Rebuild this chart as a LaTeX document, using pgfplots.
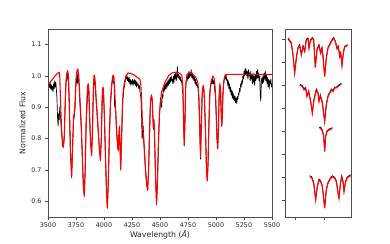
\documentclass[border=0pt]{standalone}
\usepackage{fontspec}
\setmainfont{DejaVu Sans}
\usepackage{pgfplots}
\pgfplotsset{compat=1.18}
\definecolor{spine}{gray}{0.3}
\begin{document}
\begin{tikzpicture}
\useasboundingbox (0,0) rectangle (390bp,244bp);
\pgfplotsset{
  every axis/.append style={
    scale only axis,
    axis line style={spine, line width=0.6bp},
    tick style={spine, line width=0.6bp},
    tick align=outside,
    major tick length=3bp,
    xtick pos=left, ytick pos=left,
    tick label style={font=\fontsize{6.4}{7}\selectfont, text=black!85},
    label style={font=\fontsize{7.8}{8.5}\selectfont, text=black!85},
    /pgf/number format/assume math mode=true,
  },
}
\begin{axis}[
  at={(48bp,27bp)}, anchor=south west,
  width=224bp, height=188bp,
  xmin=3500, xmax=5500, ymin=0.55, ymax=1.15,
  xtick={3500,3750,...,5500},
  ytick={0.6,0.7,...,1.1},
  yticklabel style={/pgf/number format/fixed, /pgf/number format/fixed zerofill, /pgf/number format/precision=1},
  xticklabel style={/pgf/number format/1000 sep={}, yshift=1bp},
  xlabel={Wavelength (\textit{Å})},
  ylabel={Normalized Flux},
  xlabel style={yshift=4bp},
  ylabel style={yshift=-1bp},
]
\addplot[black, line width=0.7bp, line join=round] coordinates {
(3510,0.975)(3515,0.962)(3520,0.978)(3525,0.958)(3530,0.972)(3535,0.955)(3540,0.968)(3545,0.95)(3550,0.975)(3555,0.96)(3560,0.985)(3565,0.965)(3570,0.98)(3575,0.955)(3580,0.93)(3585,0.87)(3590,0.84)(3595,0.88)(3600,0.86)(3605,0.9)(3612,0.87)(3620,0.82)(3630,0.79)(3637,0.775)(3645,0.81)(3652,0.89)(3660,0.97)(3665,0.995)(3670,0.985)(3676,1.005)(3683,0.99)(3690,0.90)(3700,0.77)(3711,0.68)(3720,0.78)(3728,0.86)(3735,0.87)(3742,0.90)(3748,0.96)(3753,0.99)(3758,1.0)(3762,0.975)(3767,1.01)(3772,0.985)(3778,0.97)(3785,0.91)(3795,0.85)(3805,0.76)(3815,0.66)(3824,0.62)(3832,0.70)(3838,0.80)(3843,0.86)(3848,0.90)(3853,0.94)(3858,0.96)(3862,0.955)(3866,0.93)(3872,0.86)(3880,0.79)(3889,0.75)(3897,0.82)(3903,0.92)(3908,0.975)(3912,0.99)(3916,0.985)(3922,0.96)(3930,0.92)(3945,0.84)(3958,0.77)(3968,0.735)(3976,0.80)(3983,0.91)(3990,0.955)(3995,0.95)(4003,0.87)(4012,0.76)(4022,0.64)(4030,0.58)(4038,0.66)(4047,0.79)(4058,0.91)(4064,0.94)(4070,0.97)(4075,0.985)(4080,0.995)(4085,0.98)(4090,0.975)(4095,0.90)(4100,0.905)(4106,0.88)(4112,0.82)(4120,0.78)(4127,0.76)(4133,0.80)(4138,0.80)(4143,0.77)(4149,0.71)(4156,0.78)(4163,0.87)(4168,0.93)(4172,0.935)(4178,0.96)(4185,0.97)(4190,0.985)(4195,1.0)(4200,0.99)(4205,1.003)(4210,0.985)(4215,0.995)(4220,0.98)(4225,0.995)(4230,0.975)(4235,0.99)(4240,0.97)(4245,0.985)(4250,0.975)(4255,0.99)(4260,0.97)(4265,0.985)(4270,0.975)(4275,0.99)(4280,0.97)(4285,0.985)(4290,0.965)(4295,0.98)(4300,0.97)(4305,0.975)(4310,0.96)(4315,0.97)(4320,0.955)(4325,0.94)(4330,0.93)(4335,0.88)(4340,0.80)(4345,0.81)(4350,0.84)(4360,0.77)(4372,0.70)(4382,0.655)(4390,0.64)(4398,0.70)(4406,0.80)(4412,0.88)(4417,0.93)(4423,0.925)(4430,0.92)(4436,0.87)(4441,0.83)(4447,0.85)(4452,0.80)(4460,0.68)(4469,0.595)(4477,0.66)(4486,0.78)(4495,0.87)(4500,0.90)(4505,0.93)(4510,0.905)(4515,0.90)(4520,0.94)(4525,0.93)(4530,0.96)(4535,0.95)(4540,0.97)(4545,0.955)(4550,0.975)(4555,0.96)(4560,0.98)(4565,0.965)(4570,0.985)(4575,0.97)(4580,0.99)(4585,0.975)(4590,0.995)(4595,0.98)(4600,1.0)(4605,0.985)(4610,0.99)(4615,0.975)(4620,1.0)(4625,0.98)(4630,1.005)(4635,0.99)(4640,1.01)(4645,0.985)(4650,1.0)(4655,1.03)(4660,0.995)(4665,1.005)(4670,0.99)(4675,1.0)(4680,0.985)(4685,0.995)(4690,0.98)(4695,0.985)(4700,0.955)(4705,0.94)(4711,0.84)(4717,0.78)(4723,0.86)(4728,0.96)(4733,0.98)(4738,0.995)(4743,0.985)(4748,1.005)(4753,0.99)(4758,1.015)(4763,0.995)(4768,1.01)(4773,1.0)(4778,1.02)(4783,0.995)(4788,1.01)(4793,0.99)(4798,1.0)(4803,0.985)(4808,0.995)(4813,0.975)(4818,0.99)(4823,0.97)(4828,0.98)(4833,0.965)(4838,0.97)(4843,0.95)(4848,0.91)(4855,0.82)(4862,0.735)(4869,0.84)(4876,0.93)(4880,0.96)(4885,0.965)(4890,0.955)(4895,0.94)(4900,0.89)(4908,0.80)(4915,0.70)(4922,0.67)(4929,0.72)(4936,0.83)(4945,0.94)(4950,0.96)(4955,0.975)(4960,0.99)(4965,0.975)(4970,0.99)(4975,0.975)(4980,0.985)(4985,0.97)(4990,0.95)(4995,0.94)(5003,0.86)(5009,0.80)(5015,0.77)(5021,0.82)(5027,0.92)(5032,0.96)(5035,0.965)(5040,0.94)(5045,0.89)(5050,0.84)(5055,0.86)(5060,0.93)(5065,0.96)(5070,0.985)(5075,0.99)(5080,1.0)(5085,0.99)(5090,1.005)(5095,0.985)(5100,0.99)(5105,0.97)(5110,0.985)(5115,0.96)(5120,0.975)(5125,0.95)(5130,0.965)(5135,0.94)(5140,0.955)(5145,0.93)(5150,0.95)(5155,0.925)(5160,0.94)(5165,0.92)(5170,0.935)(5175,0.915)(5180,0.93)(5185,0.912)(5190,0.935)(5195,0.925)(5200,0.945)(5205,0.94)(5210,0.96)(5215,0.95)(5220,0.975)(5225,0.965)(5230,0.985)(5235,0.975)(5240,1.0)(5245,0.99)(5250,1.015)(5255,1.0)(5260,1.025)(5265,1.005)(5270,1.02)(5275,1.0)(5280,1.015)(5285,0.99)(5290,1.02)(5295,1.0)(5300,1.01)(5305,0.985)(5310,1.015)(5315,0.99)(5320,1.005)(5325,0.975)(5330,1.01)(5335,0.98)(5340,1.0)(5345,0.97)(5350,1.005)(5355,0.985)(5360,1.015)(5365,0.99)(5370,1.02)(5375,0.995)(5380,1.01)(5385,0.985)(5390,1.0)(5395,0.94)(5400,0.92)(5405,0.985)(5410,0.995)(5415,0.975)(5420,1.0)(5425,0.98)(5430,1.01)(5435,0.99)(5440,1.015)(5445,0.985)(5450,1.005)(5455,0.975)(5460,0.995)(5465,0.965)(5470,0.99)(5475,0.96)(5480,0.985)(5485,0.975)(5490,0.99)(5495,0.965)(5500,0.975)
};
\addplot[red, line width=1.1bp, line join=round] coordinates {
(3510,0.975)(3530,0.985)(3550,0.995)(3570,1.003)(3590,1.01)(3600,1.012)(3605,1.0)(3612,0.92)(3620,0.84)(3630,0.78)(3637,0.772)(3645,0.80)(3652,0.90)(3660,0.98)(3668,1.01)(3676,1.017)(3683,1.0)(3690,0.92)(3700,0.76)(3711,0.675)(3720,0.77)(3728,0.87)(3735,0.88)(3742,0.92)(3750,0.99)(3760,1.02)(3767,1.022)(3775,1.0)(3785,0.93)(3795,0.86)(3805,0.76)(3815,0.65)(3824,0.616)(3832,0.70)(3840,0.85)(3848,0.93)(3855,0.97)(3860,0.975)(3866,0.95)(3872,0.87)(3880,0.79)(3889,0.745)(3897,0.82)(3903,0.93)(3910,1.0)(3915,1.003)(3922,0.98)(3930,0.93)(3945,0.85)(3958,0.77)(3968,0.73)(3976,0.80)(3983,0.93)(3990,0.965)(3995,0.96)(4003,0.88)(4012,0.76)(4022,0.63)(4030,0.578)(4038,0.66)(4047,0.80)(4058,0.92)(4070,0.98)(4080,1.003)(4088,1.0)(4095,0.96)(4103,0.90)(4112,0.83)(4120,0.79)(4127,0.765)(4133,0.82)(4138,0.84)(4143,0.78)(4149,0.70)(4156,0.79)(4163,0.89)(4172,0.955)(4185,0.985)(4200,1.003)(4215,1.01)(4240,1.008)(4270,1.003)(4300,0.995)(4320,0.99)(4328,0.975)(4335,0.93)(4342,0.86)(4350,0.82)(4360,0.76)(4372,0.69)(4382,0.65)(4390,0.635)(4398,0.70)(4406,0.82)(4415,0.92)(4423,0.94)(4430,0.93)(4436,0.88)(4441,0.836)(4447,0.86)(4452,0.80)(4460,0.68)(4469,0.589)(4477,0.66)(4486,0.79)(4495,0.88)(4505,0.92)(4515,0.95)(4530,0.965)(4545,0.98)(4560,0.99)(4580,1.003)(4610,1.01)(4640,1.012)(4670,1.01)(4695,1.003)(4705,0.96)(4711,0.85)(4717,0.777)(4723,0.86)(4730,0.97)(4740,1.005)(4760,1.01)(4790,1.008)(4820,0.995)(4838,0.98)(4848,0.93)(4855,0.84)(4862,0.74)(4869,0.85)(4876,0.94)(4885,0.97)(4892,0.96)(4900,0.90)(4908,0.80)(4915,0.70)(4922,0.665)(4929,0.72)(4936,0.84)(4945,0.95)(4958,0.985)(4972,1.0)(4985,0.99)(4995,0.95)(5003,0.87)(5009,0.80)(5015,0.767)(5021,0.82)(5027,0.93)(5035,0.976)(5042,0.95)(5048,0.87)(5052,0.84)(5057,0.88)(5064,0.96)(5075,0.995)(5085,1.005)(5500,1.005)
};
\end{axis}
\begin{axis}[
  at={(285bp,27bp)}, anchor=south west,
  width=66bp, height=188bp,
  xmin=0, xmax=66, ymin=0, ymax=188,
  xtick={10,39}, ytick={17,40,63,86,109,132,155,178},
  xticklabels={}, yticklabels={},
]
% snippet 1
\addplot[black, line width=0.7bp] coordinates {(3,179)(6.33,174.5)(8,162.5)(9.67,144.5)(11.33,159.5)(13,169.5)(14.67,172.5)(16.33,163)(18,171.5)(19.67,166)(21.33,178)(23,179)(24,169.5)(25.33,177)(27.33,179.5)(28.67,177.5)(30.33,150)(32,168)(34,172.5)(35.67,164.5)(37,169.5)(38,161)(39.67,141)(41.33,159.5)(43,169.5)(44.67,173)(47.33,178)(48.67,179.5)(50.33,176)(52,169)(53.33,171)(54.67,161)(55.67,164.5)(57,152)(58.33,164.5)(59.67,171)(61.33,171)(62.33,172.5)};
\addplot[red, line width=1.1bp] coordinates {(3,178)(6.33,173.7)(8,162)(9.67,143.7)(11.33,158.7)(13,168.7)(14.67,171.3)(16.33,162)(18,170.3)(19.67,165.3)(21.33,177)(23,178)(24,168.7)(25.33,176)(27.33,178.7)(28.67,177)(30.33,149.3)(32,167)(34,171.3)(35.67,163.7)(37,168.7)(38,160.3)(39.67,140.3)(41.33,158.7)(43,168.7)(44.67,172)(47.33,177)(48.67,178.7)(50.33,175.3)(52,168)(53.33,170.3)(54.67,160.3)(55.67,163.7)(57,151.3)(58.33,163.7)(59.67,170.3)(61.33,170.3)(62.33,172)};
% snippet 2
\addplot[black, line width=0.7bp] coordinates {(14.67,133)(17.33,131.3)(19,128)(20.67,129.7)(22,121.3)(23.67,126.3)(25.67,116.3)(27.33,104.5)(29,118)(31.33,128)(33,124.7)(34,116.3)(35.33,122.3)(37.33,114.7)(39.67,96)(41.33,113)(43,121.3)(44.67,124.7)(46.33,128)(48,126.3)(49.67,129.7)(52,130.3)(54,132.3)(56.33,133.7)};
\addplot[red, line width=1.1bp] coordinates {(14.67,132)(17.33,130.3)(19,127)(20.67,128.7)(22,120.3)(23.67,125.3)(25.67,115.3)(27.33,103.7)(29,117)(31.33,127)(33,123.7)(34,115.3)(35.33,121.3)(37.33,113.7)(39.67,95.3)(41.33,112)(43,120.3)(44.67,123.7)(46.33,127)(48,125.3)(49.67,128.7)(52,129.3)(54,131.3)(56.33,132.7)};
% snippet 3
\addplot[black, line width=0.7bp] coordinates {(34,89)(35.67,90)(37.33,87)(38.67,81.3)(39.67,66)(40.67,81.3)(42,86.3)(44,88)(46.33,89)(48,89)};
\addplot[red, line width=1.1bp] coordinates {(35,88)(35.67,88.7)(37.33,86)(38.67,80.3)(39.67,65.3)(40.67,80.3)(42,85.3)(44,87)(46.33,88)(47,88)};
% snippet 4
\addplot[black, line width=0.7bp] coordinates {(24.67,41.3)(26.67,40.3)(28.67,34.7)(30.67,18)(32.33,31.3)(34,38)(35.67,36.3)(37.33,31.3)(39.67,9.5)(41.33,28)(43,34.7)(45.33,39)(47.33,41.3)(49.67,39.7)(51.33,36.3)(53,24.7)(54,19.5)(55.33,33)(56.67,41.3)(58,36.3)(59,26)(60.33,34.7)(62,39.7)(64,41.3)(65.67,42.3)};
\addplot[red, line width=1.1bp] coordinates {(24.67,40.3)(26.67,39.3)(28.67,33.7)(30.67,17)(32.33,30.3)(34,37)(35.67,35.3)(37.33,30.3)(39.67,8.7)(41.33,27)(43,33.7)(45.33,38)(47.33,40.3)(49.67,38.7)(51.33,35.3)(53,23.7)(54,18.7)(55.33,32)(56.67,40.3)(58,35.3)(59,25.3)(60.33,33.7)(62,38.7)(64,40.3)(65.67,41.3)};
\end{axis}
\end{tikzpicture}
\end{document}
